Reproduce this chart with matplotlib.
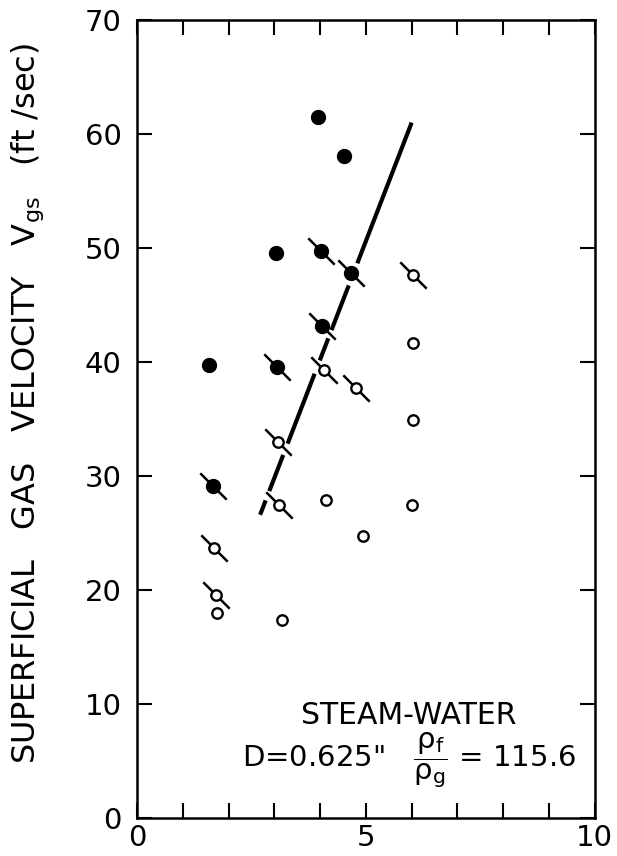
import matplotlib
matplotlib.use('Agg')
import matplotlib.pyplot as plt
from matplotlib.ticker import MultipleLocator

plt.rcParams['font.family'] = ['DejaVu Sans']
plt.rcParams['mathtext.default'] = 'regular'

# data
filled_x = [3.96, 4.52, 3.03, 1.58]
filled_y = [61.5, 58.1, 49.6, 39.7]

filled_slash_x = [4.03, 4.67, 4.05, 3.05, 1.67]
filled_slash_y = [49.7, 47.8, 43.2, 39.6, 29.1]

open_x = [6.02, 6.02, 4.13, 6.00, 4.94, 1.74, 3.17]
open_y = [41.7, 34.9, 27.9, 27.5, 24.7, 18.0, 17.4]

open_slash_x = [6.02, 4.09, 4.78, 3.08, 3.11, 1.69, 1.72]
open_slash_y = [47.6, 39.3, 37.7, 33.0, 27.5, 23.7, 19.6]

line_x = [2.69, 6.00]
line_y = [26.6, 61.0]

x_ticks = [0, 5, 10]
y_ticks = [0, 10, 20, 30, 40, 50, 60, 70]

fig = plt.figure(figsize=(6.17, 8.56), dpi=100)
ax = fig.add_axes([0.222, 0.0444, 0.742, 0.9322])

# broken transition line (gaps as in the original)
dashes = (0, (3.7, 2.4, 9.3, 2.9, 18, 3.4, 5.7, 2.1, 11.5, 5.7, 45, 1))
ax.plot(line_x, line_y, color='black', lw=3, linestyle=dashes,
        dash_capstyle='butt', zorder=2)

slash = [(-1, 1), (1, -1)]
ax.plot(filled_slash_x + open_slash_x, filled_slash_y + open_slash_y,
        linestyle='none', marker=slash, markersize=19,
        markeredgewidth=1.8, color='black', zorder=3)

ax.plot(filled_x + filled_slash_x, filled_y + filled_slash_y,
        linestyle='none', marker='o', markersize=10,
        color='black', zorder=4)
ax.plot(open_x + open_slash_x, open_y + open_slash_y,
        linestyle='none', marker='o', markersize=7.5,
        markerfacecolor='white', markeredgecolor='black',
        markeredgewidth=1.7, zorder=4)

ax.set_xlim(0, 10)
ax.set_ylim(0, 70)
ax.set_xticks(x_ticks)
ax.xaxis.set_minor_locator(MultipleLocator(1))
ax.set_yticks(y_ticks)

ax.tick_params(axis='both', which='both', direction='in', length=11, width=1.5,
               top=True, right=True, labelsize=21)
ax.tick_params(axis='x', pad=4)
ax.tick_params(axis='y', pad=11)
for s in ax.spines.values():
    s.set_linewidth(1.8)

ax.set_ylabel('SUPERFICIAL   GAS   VELOCITY   $V_{gs}$   (ft /sec)', fontsize=23)
ax.yaxis.set_label_coords(-0.198, 0.52)

ax.text(5.94, 9.0, 'STEAM-WATER', fontsize=21.5, ha='center', va='center')
ax.text(2.3, 5.1, 'D=0.625"   $\\dfrac{\\rho_f}{\\rho_g}$ = 115.6', fontsize=21,
        ha='left', va='center')

fig.savefig('out.png', dpi=100)
